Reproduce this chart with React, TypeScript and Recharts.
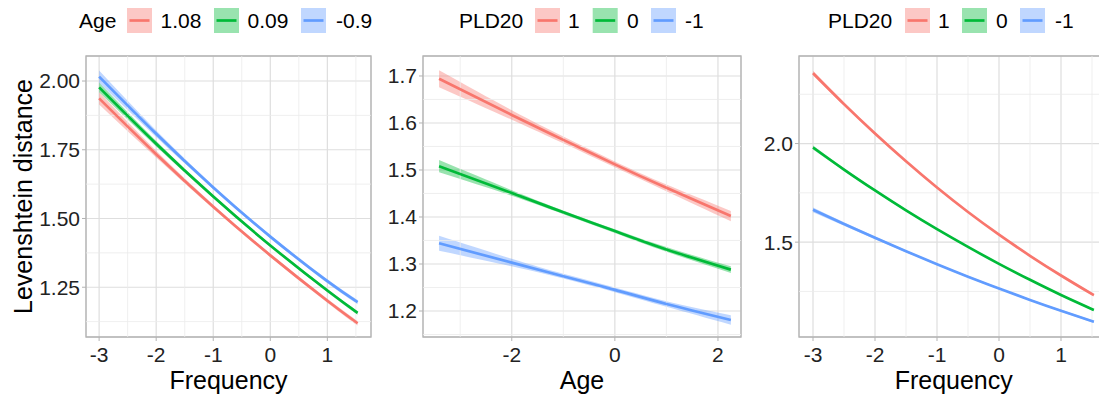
import React from "react";
import {
  ComposedChart,
  Line,
  Area,
  XAxis,
  YAxis,
  CartesianGrid,
  ReferenceLine,
  ReferenceArea,
} from "recharts";

const FONT = '"Liberation Sans", Arial, Helvetica, sans-serif';
const COLORS = ["#F8766D", "#00BA38", "#619CFF"];
const MAJOR = "#dedede";
const MINOR = "#ebebeb";
const BORDER = "#b3b3b3";
const TEXT = "#222222";

// legend levels
const ageLevels = ["1.08", "0.09", "-0.9"];
const pldLevels = ["1", "0", "-1"];

// panel 1: Levenshtein distance ~ Frequency, by Age
const p1X = [-3, -2, -1, 0, 1, 1.53];
const p1Age108 = [1.937, 1.734, 1.543, 1.366, 1.201, 1.119];
const p1Age009 = [1.977, 1.772, 1.58, 1.402, 1.238, 1.157];
const p1AgeM09 = [2.016, 1.808, 1.613, 1.434, 1.272, 1.196];
const p1Se108 = [0.022, 0.012, 0.007, 0.006, 0.007, 0.008];
const p1Se009 = [0.018, 0.01, 0.006, 0.005, 0.006, 0.007];
const p1SeM09 = [0.022, 0.012, 0.007, 0.006, 0.007, 0.008];

// panel 2: Levenshtein distance ~ Age, by PLD20
const p2X = [-3.41, -2, -1, 0, 1, 2.25];
const p2Pld1 = [1.694, 1.617, 1.564, 1.512, 1.462, 1.402];
const p2Pld0 = [1.508, 1.451, 1.41, 1.37, 1.331, 1.288];
const p2PldM1 = [1.344, 1.303, 1.274, 1.245, 1.215, 1.181];
const p2Se1 = [0.018, 0.01, 0.007, 0.006, 0.007, 0.011];
const p2Se0 = [0.013, 0.006, 0.004, 0.004, 0.005, 0.007];
const p2SeM1 = [0.016, 0.008, 0.005, 0.005, 0.006, 0.01];

// panel 3: Levenshtein distance ~ Frequency, by PLD20
const p3X = [-3, -2.5, -2, -1.5, -1, -0.5, 0, 0.5, 1, 1.53];
const p3Pld1 = [2.357, 2.2, 2.051, 1.91, 1.777, 1.653, 1.538, 1.431, 1.331, 1.231];
const p3Pld0 = [1.98, 1.868, 1.762, 1.661, 1.566, 1.476, 1.39, 1.309, 1.232, 1.156];
const p3PldM1 = [1.664, 1.592, 1.522, 1.454, 1.388, 1.325, 1.265, 1.207, 1.152, 1.096];
const p3Se1 = [0.012, 0.009, 0.007, 0.005, 0.004, 0.004, 0.004, 0.004, 0.005, 0.006];
const p3Se0 = [0.01, 0.007, 0.005, 0.004, 0.003, 0.003, 0.003, 0.003, 0.004, 0.005];
const p3SeM1 = [0.012, 0.009, 0.007, 0.005, 0.004, 0.004, 0.004, 0.004, 0.005, 0.006];

// ticks
const freqTicks = [-3, -2, -1, 0, 1];
const freqMinor = [-2.5, -1.5, -0.5, 0.5, 1.5];
const ageTicks = [-2, 0, 2];
const ageMinor = [-3, -1, 1];
const p1YTicks = [1.25, 1.5, 1.75, 2.0];
const p1YMinor = [1.125, 1.375, 1.625, 1.875];
const p2YTicks = [1.2, 1.3, 1.4, 1.5, 1.6, 1.7];
const p2YMinor = [1.15, 1.25, 1.35, 1.45, 1.55, 1.65];
const p3YTicks = [1.5, 2.0];
const p3YMinor = [1.25, 1.75, 2.25];

const KEYS = ["s1", "s2", "s3"];

function buildRows(xs: number[], vals: number[][], ses: number[][]) {
  return xs.map((x, i) => {
    const row: Record<string, any> = { x };
    KEYS.forEach((k, j) => {
      row[k] = vals[j][i];
      row[k + "Band"] = [vals[j][i] - ses[j][i], vals[j][i] + ses[j][i]];
    });
    return row;
  });
}

const rows1 = buildRows(p1X, [p1Age108, p1Age009, p1AgeM09], [p1Se108, p1Se009, p1SeM09]);
const rows2 = buildRows(p2X, [p2Pld1, p2Pld0, p2PldM1], [p2Se1, p2Se0, p2SeM1]);
const rows3 = buildRows(p3X, [p3Pld1, p3Pld0, p3PldM1], [p3Se1, p3Se0, p3SeM1]);

interface PanelProps {
  rows: Record<string, any>[];
  left: number;
  width: number;
  axisW: number;
  right: number;
  xDomain: [number, number];
  yDomain: [number, number];
  xTicks: number[];
  xMinor: number[];
  yTicks: number[];
  yMinor: number[];
  yDigits: number;
}

function Panel(p: PanelProps) {
  const tickStyle = { fontSize: 21, fill: TEXT, fontFamily: FONT };
  return (
    <div style={{ position: "absolute", left: p.left, top: 0 }}>
      <ComposedChart
        width={p.width}
        height={396}
        data={p.rows}
        margin={{ top: 56, right: p.right, bottom: 0, left: 0 }}
      >
        {p.xMinor.map((v) => (
          <ReferenceLine key={"mx" + v} x={v} stroke={MINOR} strokeWidth={0.8} />
        ))}
        {p.yMinor.map((v) => (
          <ReferenceLine key={"my" + v} y={v} stroke={MINOR} strokeWidth={0.8} />
        ))}
        <CartesianGrid stroke={MAJOR} strokeWidth={1.2} />
        <XAxis
          type="number"
          dataKey="x"
          domain={p.xDomain}
          ticks={p.xTicks}
          interval={0}
          allowDataOverflow
          height={59}
          tickSize={4}
          tickMargin={6}
          axisLine={false}
          tickLine={{ stroke: BORDER }}
          tick={tickStyle}
        />
        <YAxis
          type="number"
          domain={p.yDomain}
          ticks={p.yTicks}
          interval={0}
          allowDataOverflow
          width={p.axisW}
          tickSize={4}
          tickMargin={2}
          axisLine={false}
          tickLine={{ stroke: BORDER }}
          tick={tickStyle}
          tickFormatter={(v: number) => v.toFixed(p.yDigits)}
        />
        {KEYS.map((k, j) => (
          <Area
            key={k + "Band"}
            dataKey={k + "Band"}
            type="natural"
            stroke="none"
            fill={COLORS[j]}
            fillOpacity={0.4}
            isAnimationActive={false}
          />
        ))}
        {KEYS.map((k, j) => (
          <Line
            key={k}
            dataKey={k}
            type="natural"
            stroke={COLORS[j]}
            strokeWidth={2.7}
            dot={false}
            activeDot={false}
            isAnimationActive={false}
          />
        ))}
        <ReferenceArea
          x1={p.xDomain[0]}
          x2={p.xDomain[1]}
          y1={p.yDomain[0]}
          y2={p.yDomain[1]}
          fill="none"
          stroke={BORDER}
          strokeWidth={1.3}
        />
      </ComposedChart>
    </div>
  );
}

function LegendRow({ title, titleX, labels, keyXs, labelXs }: {
  title: string;
  titleX: number;
  labels: string[];
  keyXs: number[];
  labelXs: number[];
}) {
  return (
    <g fontFamily={FONT} fontSize={21} fill="#000">
      <text x={titleX} y={28}>{title}</text>
      {labels.map((l, i) => (
        <g key={l}>
          <rect x={keyXs[i]} y={8} width={25} height={25} fill={COLORS[i]} fillOpacity={0.4} />
          <line x1={keyXs[i] + 2.5} x2={keyXs[i] + 22.5} y1={20.5} y2={20.5} stroke={COLORS[i]} strokeWidth={2.7} />
          <text x={labelXs[i]} y={28}>{l}</text>
        </g>
      ))}
    </g>
  );
}

export default function App() {
  return (
    <div
      style={{
        position: "absolute",
        left: 0,
        top: 0,
        width: 1099,
        height: 396,
        overflow: "hidden",
        background: "#fff",
      }}
    >
      <Panel
        rows={rows1}
        left={0}
        width={380}
        axisW={86}
        right={9}
        xDomain={[-3.23, 1.765]}
        yDomain={[1.069, 2.091]}
        xTicks={freqTicks}
        xMinor={freqMinor}
        yTicks={p1YTicks}
        yMinor={p1YMinor}
        yDigits={2}
      />
      <Panel
        rows={rows2}
        left={363}
        width={387}
        axisW={60}
        right={9}
        xDomain={[-3.722, 2.447]}
        yDomain={[1.1447, 1.7425]}
        xTicks={ageTicks}
        xMinor={ageMinor}
        yTicks={p2YTicks}
        yMinor={p2YMinor}
        yDigits={1}
      />
      <Panel
        rows={rows3}
        left={739}
        width={372}
        axisW={60}
        right={3}
        xDomain={[-3.226, 1.758]}
        yDomain={[1.019, 2.444]}
        xTicks={freqTicks}
        xMinor={freqMinor}
        yTicks={p3YTicks}
        yMinor={p3YMinor}
        yDigits={1}
      />
      <svg
        width={1099}
        height={396}
        style={{ position: "absolute", left: 0, top: 0, pointerEvents: "none" }}
      >
        <LegendRow title="Age" titleX={79} labels={ageLevels} keyXs={[127, 214, 301]} labelXs={[160.5, 247.5, 336]} />
        <LegendRow title="PLD20" titleX={459} labels={pldLevels} keyXs={[535, 592.7, 651]} labelXs={[568, 627, 685]} />
        <LegendRow title="PLD20" titleX={828} labels={pldLevels} keyXs={[905, 962, 1020]} labelXs={[938, 996, 1055]} />
        <g fontFamily={FONT} fontSize={25} fill="#000" textAnchor="middle">
          <text x={228.5} y={389}>Frequency</text>
          <text x={582} y={389}>Age</text>
          <text x={953.7} y={389}>Frequency</text>
          <text transform="translate(32,196.5) rotate(-90)">Levenshtein distance</text>
        </g>
      </svg>
    </div>
  );
}
